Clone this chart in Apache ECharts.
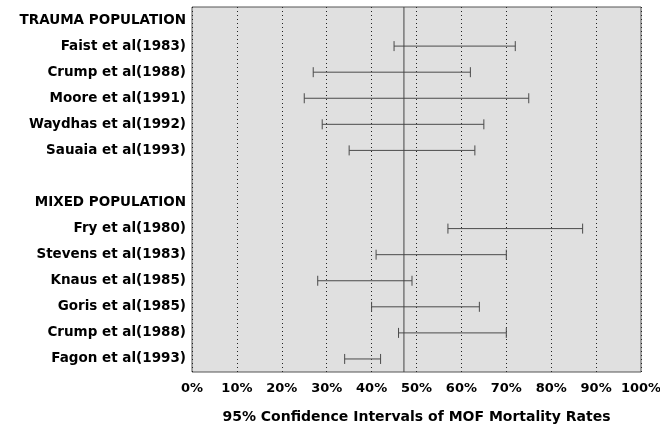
<!DOCTYPE html>
<html>
<head>
<meta charset="utf-8">
<script src="https://cdn.jsdelivr.net/npm/echarts@6/dist/echarts.min.js"></script>
<style>
  html, body { margin: 0; padding: 0; background: #fff; }
  #chart { width: 660px; height: 425px; }
</style>
</head>
<body>
<div id="chart"></div>
<script type="text/javascript">
// rows top to bottom; header / blank rows have no interval
var studies = ['TRAUMA POPULATION', 'Faist et al(1983)', 'Crump et al(1988)', 'Moore et al(1991)',
               'Waydhas et al(1992)', 'Sauaia et al(1993)', ' ', 'MIXED POPULATION',
               'Fry et al(1980)', 'Stevens et al(1983)', 'Knaus et al(1985)', 'Goris et al(1985)',
               'Crump et al(1988) ', 'Fagon et al(1993)'];
var lower = [null, 45, 27, 25, 29, 35, null, null, 57, 41, 28, 40, 46, 34];
var upper = [null, 72, 62, 75, 65, 63, null, null, 87, 70, 49, 64, 70, 42];
var overall = 47.2;
var xTicks = [0, 10, 20, 30, 40, 50, 60, 70, 80, 90, 100];

var font = 'DejaVu Sans';
var rows = [];
for (var i = 0; i < studies.length; i++) {
    if (lower[i] != null) rows.push([lower[i], upper[i], i]);
}

var myChart = echarts.init(document.getElementById('chart'));
var option = {
    animation: false,
    grid: {
        left: 192, right: 19, top: 7, bottom: 53,
        outerBoundsMode: 'none',
        containLabel: false,
        show: true,
        backgroundColor: '#e0e0e0',
        borderColor: '#555',
        borderWidth: 1
    },
    xAxis: {
        type: 'value',
        min: xTicks[0],
        max: xTicks[xTicks.length - 1],
        interval: 10,
        axisLine: { show: false },
        axisTick: { show: false },
        axisLabel: {
            margin: 10,
            color: '#000',
            fontFamily: font,
            fontWeight: 'bold',
            fontSize: 13,
            formatter: '{value}%'
        },
        splitLine: { show: true, lineStyle: { color: '#222', type: [1, 3], width: 1 } },
        name: '95% Confidence Intervals of MOF Mortality Rates',
        nameLocation: 'middle',
        nameGap: 38,
        nameTextStyle: { color: '#000', fontFamily: font, fontWeight: 'bold', fontSize: 14 }
    },
    yAxis: {
        type: 'category',
        data: studies,
        inverse: true,
        axisLine: { show: false },
        axisTick: { show: false },
        splitLine: { show: false },
        axisLabel: {
            margin: 6,
            color: '#000',
            fontFamily: font,
            fontWeight: 'bold',
            fontSize: 13.5,
            interval: 0,
            formatter: function (v) { return v.trim(); }
        }
    },
    series: [{
        type: 'custom',
        data: rows,
        renderItem: function (params, api) {
            var a = api.coord([api.value(0), api.value(2)]);
            var b = api.coord([api.value(1), api.value(2)]);
            var h = 5;
            var st = { stroke: '#4a4a4a', lineWidth: 1 };
            return {
                type: 'group',
                children: [
                    { type: 'line', shape: { x1: a[0], y1: a[1], x2: b[0], y2: b[1] }, style: st },
                    { type: 'line', shape: { x1: a[0], y1: a[1] - h, x2: a[0], y2: a[1] + h }, style: st },
                    { type: 'line', shape: { x1: b[0], y1: b[1] - h, x2: b[0], y2: b[1] + h }, style: st }
                ]
            };
        }
    }, {
        // overall mortality reference line, full plot height
        type: 'custom',
        data: [[overall, 0]],
        renderItem: function (params, api) {
            var p = api.coord([api.value(0), api.value(1)]);
            var cs = params.coordSys;
            return {
                type: 'line',
                shape: { x1: p[0], y1: cs.y, x2: p[0], y2: cs.y + cs.height },
                style: { stroke: '#444', lineWidth: 1 }
            };
        }
    }]
};
myChart.setOption(option);
</script>
</body>
</html>
